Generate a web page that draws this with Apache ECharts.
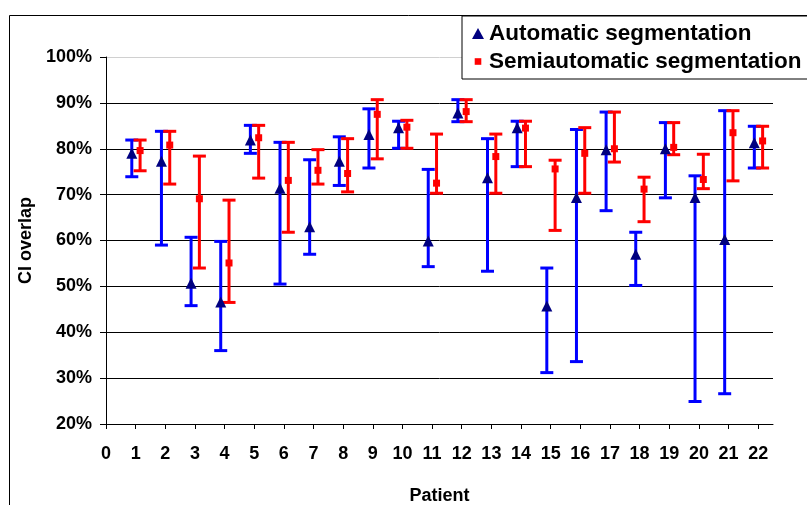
<!DOCTYPE html>
<html>
<head>
<meta charset="utf-8">
<script src="https://cdn.jsdelivr.net/npm/echarts@6/dist/echarts.min.js"></script>
<style>
  html, body { margin: 0; padding: 0; background: #fff; }
  #chart { width: 807px; height: 505px; }
</style>
</head>
<body>
<div id="chart"></div>
<script>
// patient numbers and x tick labels
const patients = [1, 2, 3, 4, 5, 6, 7, 8, 9, 10, 11, 12, 13, 14, 15, 16, 17, 18, 19, 20, 21, 22];
const xTicks = [0, 1, 2, 3, 4, 5, 6, 7, 8, 9, 10, 11, 12, 13, 14, 15, 16, 17, 18, 19, 20, 21, 22];

// Automatic segmentation: CI overlap (%) with lower / upper bounds
const autoMean = [79.0, 77.3, 50.7, 46.6, 81.9, 71.4, 63.0, 77.3, 83.1, 84.6, 59.9, 87.8, 73.7, 84.6, 45.7, 69.4, 79.8, 57.0, 80.0, 69.4, 60.2, 81.3];
const autoLow  = [73.9, 59.0, 45.8, 36.0, 79.0, 50.5, 57.0, 72.0, 75.8, 80.1, 54.3, 85.9, 53.3, 76.1, 31.2, 33.6, 66.5, 50.2, 69.3, 24.9, 26.6, 75.8];
const autoHigh = [81.9, 83.8, 60.7, 59.8, 85.1, 81.4, 77.6, 82.6, 88.7, 86.0, 75.5, 90.7, 82.2, 86.0, 54.0, 84.2, 88.0, 61.8, 85.7, 74.1, 88.3, 84.9];

// Semiautomatic segmentation
const semiMean = [79.6, 80.8, 69.1, 55.1, 82.4, 73.1, 75.3, 74.6, 87.5, 84.7, 72.5, 88.1, 78.3, 84.5, 75.6, 79.0, 80.0, 71.2, 80.3, 73.3, 83.5, 81.7];
const semiLow  = [75.2, 72.3, 54.0, 46.5, 73.6, 61.8, 72.3, 70.6, 77.8, 80.1, 70.3, 85.9, 70.3, 76.1, 62.2, 70.3, 77.1, 64.1, 78.7, 71.3, 73.0, 75.8];
const semiHigh = [81.9, 83.8, 78.4, 68.8, 85.1, 81.4, 79.8, 82.2, 90.7, 86.2, 83.2, 90.7, 83.2, 86.0, 77.5, 84.6, 88.0, 73.8, 85.7, 78.8, 88.3, 84.9];

const yTicks = [20, 30, 40, 50, 60, 70, 80, 90, 100];

const FONT = '"Liberation Sans", Arial, sans-serif';
const AUTO_SHIFT = -0.13;
const SEMI_SHIFT = 0.15;

const chart = echarts.init(document.getElementById('chart'));

// error bar drawing: vertical line + two caps
function errorBar(color) {
  return function (params, api) {
    const top = api.coord([api.value(0), api.value(2)]);
    const bot = api.coord([api.value(0), api.value(1)]);
    const half = 6.5;
    const style = { stroke: color, lineWidth: 3 };
    return {
      type: 'group',
      children: [
        { type: 'line', shape: { x1: top[0], y1: top[1], x2: bot[0], y2: bot[1] }, style: style },
        { type: 'line', shape: { x1: top[0] - half, y1: top[1], x2: top[0] + half, y2: top[1] }, style: style },
        { type: 'line', shape: { x1: bot[0] - half, y1: bot[1], x2: bot[0] + half, y2: bot[1] }, style: style }
      ]
    };
  };
}

const autoBars = patients.map((p, i) => [p + AUTO_SHIFT, autoLow[i], autoHigh[i]]);
const semiBars = patients.map((p, i) => [p + SEMI_SHIFT, semiLow[i], semiHigh[i]]);
const autoPts = patients.map((p, i) => [p + AUTO_SHIFT, autoMean[i]]);
const semiPts = patients.map((p, i) => [p + SEMI_SHIFT, semiMean[i]]);

const option = {
  animation: false,
  backgroundColor: '#fff',
  textStyle: { fontFamily: FONT },
  graphic: [{
    type: 'rect',
    shape: { x: 9.5, y: 15.5, width: 900, height: 600 },
    style: { fill: 'none', stroke: '#000', lineWidth: 1 },
    z: -10
  }],
  grid: { left: 106, right: 34, top: 57, bottom: 81, containLabel: false, outerBoundsMode: 'none' },
  legend: {
    orient: 'vertical',
    left: 462,
    top: 16,
    padding: [6, 30, 6, 10],
    itemGap: 5,
    itemWidth: 12,
    itemHeight: 11,
    itemTextGap: 10,
    backgroundColor: '#fff',
    borderColor: '#000',
    borderWidth: 1,
    textStyle: { fontFamily: FONT, fontSize: 22.5, fontWeight: 'bold', color: '#000', lineHeight: 22 },
    data: [
      { name: 'Automatic segmentation', icon: 'triangle' },
      { name: 'Semiautomatic segmentation', icon: 'path://M0,0M10,10M2,2h6v6h-6z' }
    ]
  },
  xAxis: {
    type: 'value',
    min: 0,
    max: 22.5,
    interval: 1,
    name: 'Patient',
    nameLocation: 'middle',
    nameGap: 63,
    nameTextStyle: { fontFamily: FONT, fontSize: 18, fontWeight: 'bold', color: '#000' },
    axisLine: { onZero: false, lineStyle: { color: '#000', width: 1 } },
    axisTick: { show: true, length: 5, lineStyle: { color: '#000' }, customValues: xTicks },
    axisLabel: { fontFamily: FONT, fontSize: 18, fontWeight: 'bold', color: '#000', margin: 21, customValues: xTicks },
    splitLine: { show: false }
  },
  yAxis: {
    type: 'value',
    min: 20,
    max: 100,
    interval: 10,
    name: 'CI overlap',
    nameLocation: 'middle',
    nameGap: 71,
    nameTextStyle: { fontFamily: FONT, fontSize: 18, fontWeight: 'bold', color: '#000' },
    axisLine: { show: true, lineStyle: { color: '#000', width: 1 } },
    axisTick: { show: true, length: 6, lineStyle: { color: '#000' } },
    axisLabel: { fontFamily: FONT, fontSize: 18, fontWeight: 'bold', color: '#000', margin: 14, formatter: '{value}%', customValues: yTicks },
    splitLine: {
      show: true,
      lineStyle: { color: ['#000', '#000', '#000', '#000', '#000', '#000', '#000', '#000', '#d0d0d0'], width: 1 }
    }
  },
  series: [
    {
      name: 'autoBars',
      type: 'custom',
      renderItem: errorBar('#0000FF'),
      data: autoBars,
      encode: { x: 0, y: [1, 2] },
      z: 2,
      silent: true
    },
    {
      name: 'semiBars',
      type: 'custom',
      renderItem: errorBar('#FF0000'),
      data: semiBars,
      encode: { x: 0, y: [1, 2] },
      z: 3,
      silent: true
    },
    {
      name: 'Automatic segmentation',
      type: 'scatter',
      data: autoPts,
      symbol: 'triangle',
      symbolSize: [11, 11],
      itemStyle: { color: '#000080', opacity: 1 },
      z: 4
    },
    {
      name: 'Semiautomatic segmentation',
      type: 'scatter',
      data: semiPts,
      symbol: 'rect',
      symbolSize: 7,
      itemStyle: { color: '#FF0000', opacity: 1 },
      z: 5
    }
  ]
};

chart.setOption(option);
</script>
</body>
</html>
